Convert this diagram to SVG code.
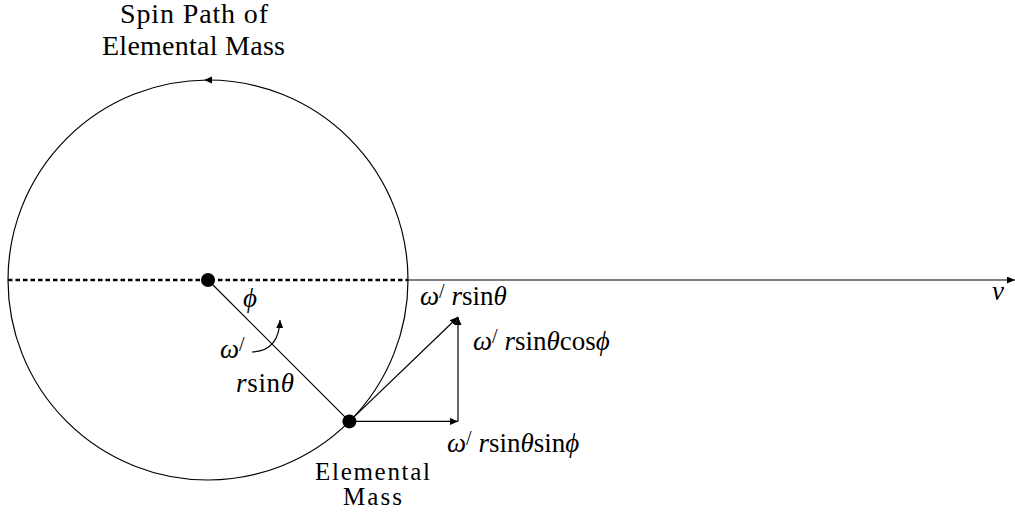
<svg xmlns="http://www.w3.org/2000/svg" width="1015" height="516" viewBox="0 0 1015 516">
<style>
.t{font-family:'Liberation Serif','Times New Roman',serif;font-size:27px;fill:#000}
.b{font-size:28px}
.s{font-size:25px}
.i{font-style:italic}
.sup{font-size:20px}
.ln{stroke:#000;stroke-width:1.2;fill:none}
.dash{stroke:#000;stroke-width:2.4;stroke-dasharray:4.5 3;fill:none}
.dot{fill:#000}
</style>
<defs>
<marker id="ah" viewBox="0 0 8 7" refX="8" refY="3.5" markerWidth="8" markerHeight="7" markerUnits="userSpaceOnUse" orient="auto">
<path d="M0,0 L8,3.5 L0,7 z" fill="#000"/>
</marker>
</defs>
<rect width="1015" height="516" fill="#fff"/>

<g id="spin-path" font-family="Liberation Serif, serif">
<circle cx="208" cy="280" r="200" class="ln"/>
<polygon points="204,80 212,76.5 212,83.5" fill="#000"/>
<text class="t b" x="120" y="23" textLength="148" lengthAdjust="spacing">Spin Path of</text>
<text class="t b" x="102" y="55" textLength="183" lengthAdjust="spacing">Elemental Mass</text>
</g>

<g id="connectors">
<line x1="8" y1="280" x2="408" y2="280" class="dash"/>
<line x1="408" y1="280" x2="1015" y2="280" class="ln" marker-end="url(#ah)"/>
<line x1="208" y1="280" x2="349.4" y2="421.4" class="ln"/>
<line x1="349.4" y1="421.4" x2="458" y2="317" class="ln" marker-end="url(#ah)"/>
<line x1="349.4" y1="421.4" x2="458" y2="421.4" class="ln" marker-end="url(#ah)"/>
<line x1="458" y1="421.4" x2="458" y2="317" class="ln" marker-end="url(#ah)"/>
<path d="M252,352 Q279,351 280,320" class="ln" marker-end="url(#ah)"/>
</g>

<g id="center">
<circle cx="208" cy="280" r="7" class="dot"/>
</g>

<g id="elemental-mass">
<circle cx="349.4" cy="421.4" r="7" class="dot"/>
<text class="t s" x="315" y="480" textLength="115" lengthAdjust="spacing">Elemental</text>
<text class="t s" x="343" y="505" textLength="59" lengthAdjust="spacing">Mass</text>
</g>

<g id="labels">
<text class="t i" x="243" y="307">ϕ</text>
<text class="t" x="220" y="358"><tspan class="i">ω</tspan><tspan class="sup" dy="-7">/</tspan></text>
<text class="t" x="236" y="392" textLength="58" lengthAdjust="spacing"><tspan class="i">r</tspan>sin<tspan class="i">θ</tspan></text>
<text class="t" x="420" y="305"><tspan class="i">ω</tspan><tspan class="sup" dy="-7">/</tspan><tspan dy="7"> </tspan><tspan class="i">r</tspan>sin<tspan class="i">θ</tspan></text>
<text class="t" x="473" y="350"><tspan class="i">ω</tspan><tspan class="sup" dy="-7">/</tspan><tspan dy="7"> </tspan><tspan class="i">r</tspan>sin<tspan class="i">θ</tspan>cos<tspan class="i">ϕ</tspan></text>
<text class="t" x="447" y="452"><tspan class="i">ω</tspan><tspan class="sup" dy="-7">/</tspan><tspan dy="7"> </tspan><tspan class="i">r</tspan>sin<tspan class="i">θ</tspan>sin<tspan class="i">ϕ</tspan></text>
<text class="t i" x="992" y="300">v</text>
</g>
</svg>
